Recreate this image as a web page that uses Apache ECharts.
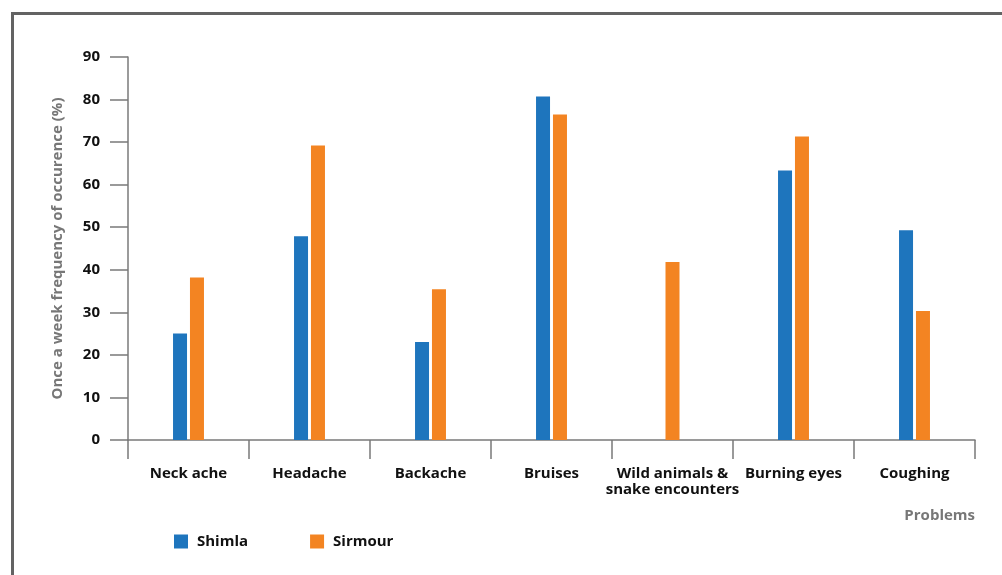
<!DOCTYPE html>
<html>
<head>
<meta charset="utf-8">
<script src="https://cdn.jsdelivr.net/npm/echarts@6/dist/echarts.min.js"></script>
<style>
html,body{margin:0;padding:0;background:#fff;}
#chart{width:1002px;height:575px;}
</style>
</head>
<body>
<div id="chart"></div>
<script>
var categories = ['Neck ache', 'Headache', 'Backache', 'Bruises', 'Wild animals &\nsnake encounters', 'Burning eyes', 'Coughing'];
var shimla = [25, 47.9, 23, 80.7, null, 63.3, 49.3];
var sirmour = [38.2, 69.2, 35.4, 76.5, 41.8, 71.3, 30.3];
var yTicks = [0, 10, 20, 30, 40, 50, 60, 70, 80, 90];
var seriesNames = ['Shimla', 'Sirmour'];
var yTitle = 'Once a week frequency of occurence (%)';
var xTitle = 'Problems';

var BLUE = '#1e75bd';
var ORANGE = '#f38422';
var FONT = '"Open Sans", "Noto Sans", sans-serif';
var AXIS = '#7a7a7a';
var FS = 15;

// Sirmour bars paired with Shimla, and Sirmour bars alone (centred) where Shimla has no value
var sirmourPaired = sirmour.map(function (v, i) { return shimla[i] === null ? null : v; });
var sirmourAlone = sirmour.map(function (v, i) { return shimla[i] === null ? v : null; });

var chart = echarts.init(document.getElementById('chart'));
chart.setOption({
  animation: false,
  textStyle: { fontFamily: FONT },
  grid: { left: 128, right: 27, top: 57, bottom: 135 },
  title: {
    text: xTitle,
    right: 27,
    top: 508,
    padding: 0,
    textStyle: { fontFamily: FONT, fontSize: FS, fontWeight: 'bold', color: '#777' }
  },
  legend: {
    data: seriesNames,
    left: 174,
    top: 534,
    padding: 0,
    itemWidth: 14,
    itemHeight: 14,
    itemGap: 62,
    icon: 'rect',
    textStyle: { fontFamily: FONT, fontSize: FS, fontWeight: 'bold', color: '#111', padding: [0, 0, 0, 4] }
  },
  xAxis: [{
    type: 'category',
    data: categories,
    axisLine: { lineStyle: { color: AXIS, width: 1.5 } },
    axisTick: { show: true, length: 19, alignWithLabel: false, lineStyle: { color: AXIS, width: 1.5 } },
    axisLabel: { margin: 26, interval: 0, fontFamily: FONT, fontSize: FS, fontWeight: 'bold', color: '#111', lineHeight: 16 }
  }, {
    type: 'category',
    data: categories,
    show: false
  }],
  yAxis: {
    type: 'value',
    min: yTicks[0],
    max: yTicks[yTicks.length - 1],
    interval: yTicks[1] - yTicks[0],
    name: yTitle,
    nameLocation: 'middle',
    nameGap: 63,
    nameTextStyle: { fontFamily: FONT, fontSize: FS, fontWeight: 'bold', color: '#777' },
    splitLine: { show: false },
    axisLine: { show: true, lineStyle: { color: AXIS, width: 1.5 } },
    axisTick: { show: true, length: 18, lineStyle: { color: AXIS, width: 1.5 } },
    axisLabel: { margin: 28, fontFamily: FONT, fontSize: FS, fontWeight: 'bold', color: '#111' }
  },
  series: [{
    name: seriesNames[0],
    type: 'bar',
    data: shimla,
    barWidth: 14,
    barGap: '21%',
    itemStyle: { color: BLUE }
  }, {
    name: seriesNames[1],
    type: 'bar',
    data: sirmourPaired,
    barWidth: 14,
    barGap: '21%',
    itemStyle: { color: ORANGE }
  }, {
    name: seriesNames[1],
    type: 'bar',
    xAxisIndex: 1,
    data: sirmourAlone,
    barWidth: 14,
    itemStyle: { color: ORANGE }
  }],
  graphic: [{
    type: 'line',
    shape: { x1: 11, y1: 13.5, x2: 1002, y2: 13.5 },
    style: { stroke: '#636363', lineWidth: 3 }
  }, {
    type: 'line',
    shape: { x1: 12.5, y1: 12, x2: 12.5, y2: 575 },
    style: { stroke: '#636363', lineWidth: 3 }
  }]
});
</script>
</body>
</html>
